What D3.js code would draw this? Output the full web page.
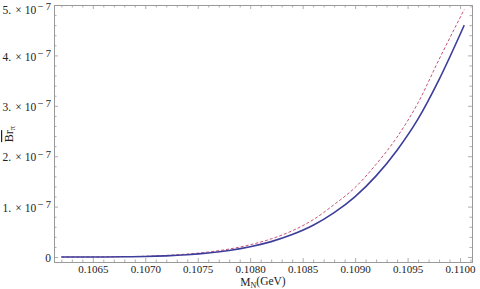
<!DOCTYPE html>
<html>
<head>
<meta charset="utf-8">
<script src="https://cdnjs.cloudflare.com/ajax/libs/d3/7.8.5/d3.min.js"></script>
<style>
  body { margin: 0; background: #fff; }
  text { font-family: "Liberation Serif", "DejaVu Serif", serif; fill: #222; }
</style>
</head>
<body>
<div id="chart"></div>
<script>
// values (Br in units of 1e-7)
const massN = [0.1062, 0.1064, 0.1066, 0.1068, 0.1070, 0.1072, 0.1074, 0.1076, 0.1078, 0.1080,
               0.1082, 0.1084, 0.1086, 0.1088, 0.1090, 0.1092, 0.1094, 0.1096, 0.1098, 0.11004];
const brSolid = [0, 0.0002, 0.001, 0.004, 0.010, 0.023, 0.045, 0.079, 0.13, 0.203,
                 0.305, 0.445, 0.63, 0.88, 1.20, 1.61, 2.12, 2.74, 3.52, 4.60];
const brDashed = [0.0001, 0.0006, 0.003, 0.0075, 0.015, 0.032, 0.059, 0.099, 0.158, 0.243,
                  0.36, 0.52, 0.74, 1.04, 1.38, 1.84, 2.38, 3.06, 3.92, 4.91];
const xTicks = [0.1065, 0.1070, 0.1075, 0.1080, 0.1085, 0.1090, 0.1095, 0.1100];
const yTicks = [0, 1, 2, 3, 4, 5];

const width = 480, height = 289;
const margin = {top: 5, right: 8, bottom: 27, left: 54};

const svg = d3.select("#chart").append("svg")
  .attr("width", width)
  .attr("height", height);

const x = d3.scaleLinear()
  .domain([0.10613, 0.110114])
  .range([margin.left, width - margin.right]);

const y = d3.scaleLinear()
  .domain([-0.099, 5])
  .range([height - margin.bottom, margin.top]);

const frameColor = "#999";

// minor ticks
const xMinor = d3.range(0.1062, 0.11011, 0.0001).filter(v => Math.abs(Math.round(v * 2000) - v * 2000) > 1e-6);
const yMinor = d3.range(0, 5.0001, 0.2).filter(v => Math.abs(Math.round(v) - v) > 1e-6);

function styleAxis(g) {
  g.select(".domain").attr("stroke", frameColor).attr("stroke-width", 1);
  g.selectAll(".tick line").attr("stroke", frameColor).attr("stroke-width", 0.8);
}

// bottom
svg.append("g")
  .attr("transform", `translate(0,${height - margin.bottom})`)
  .call(d3.axisBottom(x).tickValues(xTicks).tickSizeInner(-4).tickSizeOuter(0).tickPadding(3)
        .tickFormat(d3.format(".4f")))
  .call(styleAxis)
  .call(g => g.selectAll("text").attr("font-size", "11px").attr("fill", "#222")
        .style("font-family", '"Liberation Serif", serif'));
svg.append("g")
  .attr("transform", `translate(0,${height - margin.bottom})`)
  .call(d3.axisBottom(x).tickValues(xMinor).tickSizeInner(-2.5).tickSizeOuter(0).tickFormat(""))
  .call(styleAxis);

// top
svg.append("g")
  .attr("transform", `translate(0,${margin.top})`)
  .call(d3.axisTop(x).tickValues(xTicks).tickSizeInner(-4).tickSizeOuter(0).tickFormat(""))
  .call(styleAxis);
svg.append("g")
  .attr("transform", `translate(0,${margin.top})`)
  .call(d3.axisTop(x).tickValues(xMinor).tickSizeInner(-2.5).tickSizeOuter(0).tickFormat(""))
  .call(styleAxis);

// left
const yLeft = svg.append("g")
  .attr("transform", `translate(${margin.left},0)`)
  .call(d3.axisLeft(y).tickValues(yTicks).tickSizeInner(-4).tickSizeOuter(0).tickPadding(3))
  .call(styleAxis);
yLeft.selectAll(".tick text")
  .attr("font-size", "11.5px")
  .attr("fill", "#222")
  .attr("dy", d => d === 5 ? "0.75em" : "0.4em")
  .style("font-family", '"Liberation Serif", serif')
  .each(function(d) {
    const t = d3.select(this).text("");
    if (d === 0) { t.text("0"); return; }
    t.append("tspan").text(d + ".");
    t.append("tspan").attr("dx", 4).text("\u00d7");
    t.append("tspan").attr("dx", 3).text("10");
    t.append("tspan").attr("dx", 1.5).attr("dy", "-0.36em").attr("font-size", "10.5px").text("\u2212\u20097");
  });
svg.append("g")
  .attr("transform", `translate(${margin.left},0)`)
  .call(d3.axisLeft(y).tickValues(yMinor).tickSizeInner(-2.5).tickSizeOuter(0).tickFormat(""))
  .call(styleAxis);

// right
svg.append("g")
  .attr("transform", `translate(${width - margin.right},0)`)
  .call(d3.axisRight(y).tickValues(yTicks).tickSizeInner(-4).tickSizeOuter(0).tickFormat(""))
  .call(styleAxis);
svg.append("g")
  .attr("transform", `translate(${width - margin.right},0)`)
  .call(d3.axisRight(y).tickValues(yMinor).tickSizeInner(-2.5).tickSizeOuter(0).tickFormat(""))
  .call(styleAxis);

// curves
const line = d3.line()
  .x((d, i) => x(massN[i]))
  .y(d => y(d))
  .curve(d3.curveMonotoneX);

svg.append("path")
  .datum(brDashed)
  .attr("fill", "none")
  .attr("stroke", "#c0406a")
  .attr("stroke-width", 0.9)
  .attr("stroke-dasharray", "3,2")
  .attr("d", line);

svg.append("path")
  .datum(brSolid)
  .attr("fill", "none")
  .attr("stroke", "#3d3d9c")
  .attr("stroke-width", 1.6)
  .attr("d", line);

// axis labels
svg.append("text")
  .attr("x", 263)
  .attr("y", 286)
  .attr("text-anchor", "middle")
  .attr("font-size", "11.5px")
  .call(t => {
    t.append("tspan").text("M");
    t.append("tspan").attr("font-size", "8px").attr("dy", "0.25em").text("N");
    t.append("tspan").attr("dy", "-0.25em").text("(GeV)");
  });

svg.append("text")
  .attr("transform", "translate(13,134) rotate(-90)")
  .attr("text-anchor", "middle")
  .attr("font-size", "12px")
  .call(t => {
    t.append("tspan").style("text-decoration", "overline").text("Br");
    t.append("tspan").attr("font-size", "8.5px").attr("dy", "0.25em").text("\u03c0");
  });
</script>
</body>
</html>
